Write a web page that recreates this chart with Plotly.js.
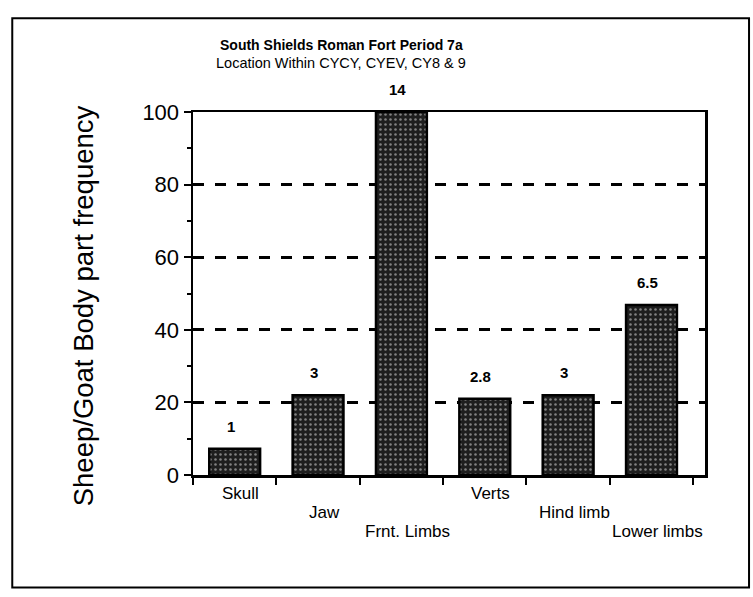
<!DOCTYPE html>
<html>
<head>
<meta charset="utf-8">
<script src="https://cdn.plot.ly/plotly-3.0.1.min.js"></script>
<style>html,body{margin:0;padding:0;background:#fff;}#chart{width:753px;height:597px;}</style>
</head>
<body>
<div id="chart"></div>
<script>
// Data
const categories = ["Skull", "Jaw", "Frnt. Limbs", "Verts", "Hind limb", "Lower limbs"];
const frequency = [7.2, 22, 100, 21, 22, 46.8];          // % bar heights
const counts = ["1", "3", "14", "2.8", "3", "6.5"];      // labels printed above bars
const labelLevels = [0, 1, 2, 0, 1, 2];                  // stagger level of category labels
const yTicks = [0, 20, 40, 60, 80, 100];
const titleLines = ["South Shields Roman Fort Period 7a", "Location Within CYCY, CYEV, CY8 & 9"];
const yTitle = "Sheep/Goat Body part frequency";

const FONT = "Liberation Sans, Arial, Helvetica, sans-serif";

const trace = {
  type: "bar",
  x: categories,
  y: frequency,
  marker: {
    color: "#1e1e1e",
    line: {color: "#000", width: 2.5},
    pattern: {shape: ".", fillmode: "overlay", fgcolor: "#e6e6e6", size: 5, solidity: 0.2}
  },
  hoverinfo: "skip",
  cliponaxis: false
};

const annotations = [];
// value labels above bars
categories.forEach((c, i) => {
  annotations.push({
    x: c, y: frequency[i], xref: "x", yref: "y",
    text: "<b>" + counts[i] + "</b>", showarrow: false, yanchor: "bottom", yshift: 12, xshift: -4,
    font: {family: FONT, size: 15, color: "#000"}
  });
});
// staggered category labels
const levelY = [-0.05, -0.103, -0.155];
categories.forEach((c, i) => {
  annotations.push({
    x: c, y: levelY[labelLevels[i]], xref: "x", yref: "paper",
    text: c, showarrow: false, yanchor: "middle", xshift: 6,
    font: {family: FONT, size: 17, color: "#000"}
  });
});
// title lines
annotations.push({
  x: 0.29, y: 1.185, xref: "paper", yref: "paper", text: "<b>" + titleLines[0] + "</b>",
  showarrow: false, xanchor: "center", yanchor: "middle",
  font: {family: FONT, size: 14, color: "#000"}
});
annotations.push({
  x: 0.29, y: 1.135, xref: "paper", yref: "paper", text: titleLines[1],
  showarrow: false, xanchor: "center", yanchor: "middle",
  font: {family: FONT, size: 14.5, color: "#000"}
});
// y axis title
annotations.push({
  x: -0.214, y: 0.466, xref: "paper", yref: "paper", text: yTitle,
  showarrow: false, textangle: -90, xanchor: "center", yanchor: "middle",
  font: {family: FONT, size: 27.5, color: "#000"}
});

const layout = {
  width: 753, height: 597,
  margin: {l: 193, r: 48, t: 112, b: 122},
  paper_bgcolor: "#fff", plot_bgcolor: "#fff",
  showlegend: false,
  bargap: 0.39,
  font: {family: FONT, color: "#000"},
  xaxis: {
    type: "category",
    showticklabels: false,
    ticks: "outside", ticklen: 7, tickwidth: 2, tickcolor: "#000",
    tickson: "boundaries",
    showline: true, linecolor: "#000", linewidth: 2.5, mirror: true,
    showgrid: false, zeroline: false, fixedrange: true
  },
  yaxis: {
    range: [0, 100],
    tickvals: yTicks,
    ticktext: yTicks.map(String),
    ticks: "outside", ticklen: 7, tickwidth: 2, tickcolor: "#000",
    minor: {dtick: 10, ticks: "outside", ticklen: 4, tickwidth: 2, tickcolor: "#000", showgrid: false},
    tickfont: {family: FONT, size: 22, color: "#000"},
    showline: true, linecolor: "#000", linewidth: 2.5, mirror: true,
    showgrid: true, gridcolor: "#000", gridwidth: 3, griddash: "11px,11px",
    zeroline: false, fixedrange: true
  },
  shapes: [{
    type: "rect", xref: "paper", yref: "paper",
    x0: -0.353, x1: 1.086, y0: -0.31, y1: 1.258,
    line: {color: "#000", width: 2}, fillcolor: "rgba(0,0,0,0)"
  }],
  annotations: annotations
};

Plotly.newPlot("chart", [trace], layout, {displayModeBar: false, staticPlot: true});
</script>
</body>
</html>
